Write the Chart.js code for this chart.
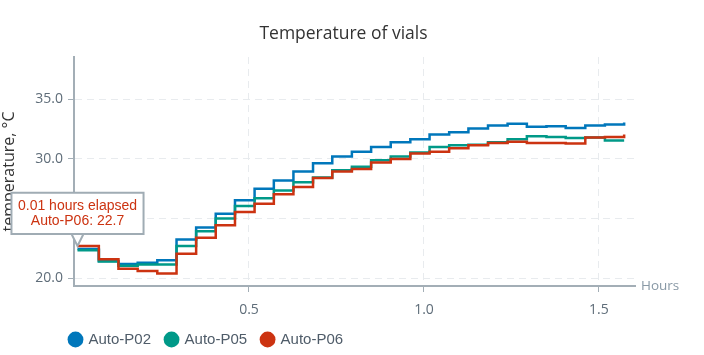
<!DOCTYPE html>
<html>
<head>
<meta charset="utf-8">
<script src="https://cdn.jsdelivr.net/npm/chart.js@4"></script>
<style>
html,body{margin:0;padding:0;background:#fff;overflow:hidden}
#c{display:block}
</style>
</head>
<body>
<canvas id="c" width="687" height="355"></canvas>
<script>
// ---- data ----
const chartTitle = 'Temperature of vials';
const yAxisTitle = 'temperature, °C';
const xAxisName = 'Hours';
const hours = [0.01, 0.071, 0.127, 0.182, 0.238, 0.293, 0.349, 0.405, 0.46, 0.516,
               0.571, 0.627, 0.683, 0.738, 0.794, 0.849, 0.905, 0.961, 1.016, 1.072,
               1.127, 1.183, 1.239, 1.294, 1.35, 1.405, 1.461, 1.517, 1.572];
const seriesNames = ['Auto-P02', 'Auto-P05', 'Auto-P06'];
const autoP02 = [22.45, 21.45, 21.2, 21.3, 21.5, 23.25, 24.25, 25.4, 26.55, 27.5,
                 28.2, 28.95, 29.65, 30.2, 30.6, 31.0, 31.4, 31.65, 32.05, 32.25,
                 32.55, 32.8, 32.95, 32.7, 32.75, 32.6, 32.8, 32.9, 33.05];
const autoP05 = [22.35, 21.4, 21.05, 21.15, 21.15, 22.7, 23.95, 25.0, 26.05, 26.7,
                 27.35, 28.05, 28.45, 29.05, 29.35, 29.9, 30.2, 30.55, 31.0, 31.15,
                 31.2, 31.4, 31.65, 31.9, 31.85, 31.75, 31.8, 31.55, 31.55];
const autoP06 = [22.7, 21.6, 20.8, 20.6, 20.4, 22.05, 23.4, 24.45, 25.55, 26.25,
                 27.05, 27.65, 28.4, 28.95, 29.15, 29.7, 30.0, 30.45, 30.6, 30.9,
                 31.15, 31.35, 31.45, 31.35, 31.35, 31.3, 31.8, 31.85, 32.05];
const yTickValues = [20, 25, 30, 35];
const xTickValues = [0.5, 1.0, 1.5];
const highlighted = { series: 2, index: 0 };

// ---- styles ----
const seriesColors = ['#0077BB', '#009988', '#CC3311'];
const axisColor = '#a3aeb6';
const gridColor = '#e8ebee';
const tickTextColor = '#5f6d79';

const allSeries = [autoP02, autoP05, autoP06];
const datasets = allSeries.map((vals, i) => ({
  label: seriesNames[i],
  data: vals.map((v, j) => ({ x: hours[j], y: v })),
  borderColor: seriesColors[i],
  backgroundColor: seriesColors[i],
  borderWidth: 2.5,
  pointRadius: 0,
  pointHoverRadius: 0,
  stepped: true,
  fill: false,
  tension: 0,
  order: 2 - i
}));

const axisNamePlugin = {
  id: 'axisName',
  afterDatasetsDraw(chart) {
    const { ctx, chartArea } = chart;
    ctx.save();
    ctx.font = '13.5px "Open Sans"';
    ctx.fillStyle = '#8898a5';
    ctx.textAlign = 'left';
    ctx.textBaseline = 'middle';
    ctx.fillText(xAxisName, chartArea.right + 6, chartArea.bottom);
    ctx.restore();
  }
};
const legendShiftPlugin = {
  id: 'legendShift',
  afterLayout(chart) { if (chart.legend) chart.legend.left = 55; }
};

const chart = new Chart(document.getElementById('c'), {
  type: 'line',
  data: { datasets },
  options: {
    responsive: false,
    animation: false,
    events: [],
    devicePixelRatio: 1,
    layout: { padding: { left: 0, right: 0, top: 0, bottom: 0 } },
    scales: {
      x: {
        type: 'linear', min: 0, max: 1.603,
        afterBuildTicks: s => { s.ticks = xTickValues.map(v => ({ value: v })); },
        afterFit: s => { s.height = 31; s.paddingRight = 52; },
        ticks: { callback: v => Number(v).toFixed(1), color: tickTextColor,
                 font: { family: 'Open Sans', size: 14 }, padding: 10, maxRotation: 0 },
        grid: { color: gridColor, tickColor: axisColor, tickLength: 6, lineWidth: 1 },
        border: { display: true, color: axisColor, width: 2, dash: [7, 5] }
      },
      y: {
        type: 'linear', min: 19.35, max: 38.55,
        afterBuildTicks: s => { s.ticks = yTickValues.map(v => ({ value: v })); },
        afterFit: s => { s.width = 74; },
        ticks: { callback: v => Number(v).toFixed(1), color: tickTextColor,
                 font: { family: 'Open Sans', size: 14 }, padding: 5 },
        grid: { color: gridColor, tickColor: axisColor, tickLength: 6, lineWidth: 1 },
        border: { display: true, color: axisColor, width: 2, dash: [7, 5] },
        title: { display: true, text: yAxisTitle, color: '#333333',
                 font: { family: 'Open Sans', size: 16 }, padding: { top: 0, bottom: 0 } }
      }
    },
    plugins: {
      title: {
        display: true, text: chartTitle, color: '#333333',
        font: { family: 'Open Sans', size: 17.5, weight: 'normal' },
        padding: { top: 24, bottom: 12 }
      },
      legend: {
        position: 'bottom', align: 'start', maxHeight: 38,
        labels: {
          usePointStyle: true, pointStyle: 'circle', boxWidth: 11, boxHeight: 11.2,
          padding: 15, color: '#4f5c69',
          font: { family: '"Liberation Sans", Arial, sans-serif', size: 15 },
          sort: (a, b) => a.datasetIndex - b.datasetIndex,
          generateLabels: c => Chart.defaults.plugins.legend.labels.generateLabels(c)
                                  .map(l => Object.assign(l, { lineWidth: 0 }))
        }
      },
      tooltip: {
        enabled: true,
        backgroundColor: '#ffffff',
        borderColor: '#a0acb4',
        borderWidth: 2,
        cornerRadius: 0,
        caretSize: 12,
        caretPadding: 0,
        xAlign: 'center',
        yAlign: 'bottom',
        displayColors: false,
        padding: { x: 6.5, y: 6 },
        titleColor: seriesColors[2],
        bodyColor: seriesColors[2],
        titleAlign: 'center',
        bodyAlign: 'center',
        titleMarginBottom: 0,
        titleSpacing: 0,
        bodySpacing: 0,
        titleFont: { family: '"Liberation Sans", Arial, sans-serif', size: 14, weight: 'normal', lineHeight: 1.05 },
        bodyFont: { family: '"Liberation Sans", Arial, sans-serif', size: 14, weight: 'normal', lineHeight: 1.05 },
        callbacks: {
          title: items => items[0].parsed.x.toFixed(2) + ' hours elapsed',
          label: ctx => ctx.dataset.label + ': ' + ctx.parsed.y
        }
      }
    }
  },
  plugins: [axisNamePlugin, legendShiftPlugin]
});

// narrow the tooltip caret
const tt = chart.tooltip;
const origCaret = tt.getCaretPosition.bind(tt);
tt.getCaretPosition = function (pt, size, opts) {
  const c = origCaret(pt, size, opts);
  c.x1 = c.x2 - 6; c.x3 = c.x2 + 6;
  return c;
};
const pt = chart.getDatasetMeta(highlighted.series).data[highlighted.index];
tt.setActiveElements([{ datasetIndex: highlighted.series, index: highlighted.index }], { x: pt.x, y: pt.y });
chart.update('none');
</script>
</body>
</html>
